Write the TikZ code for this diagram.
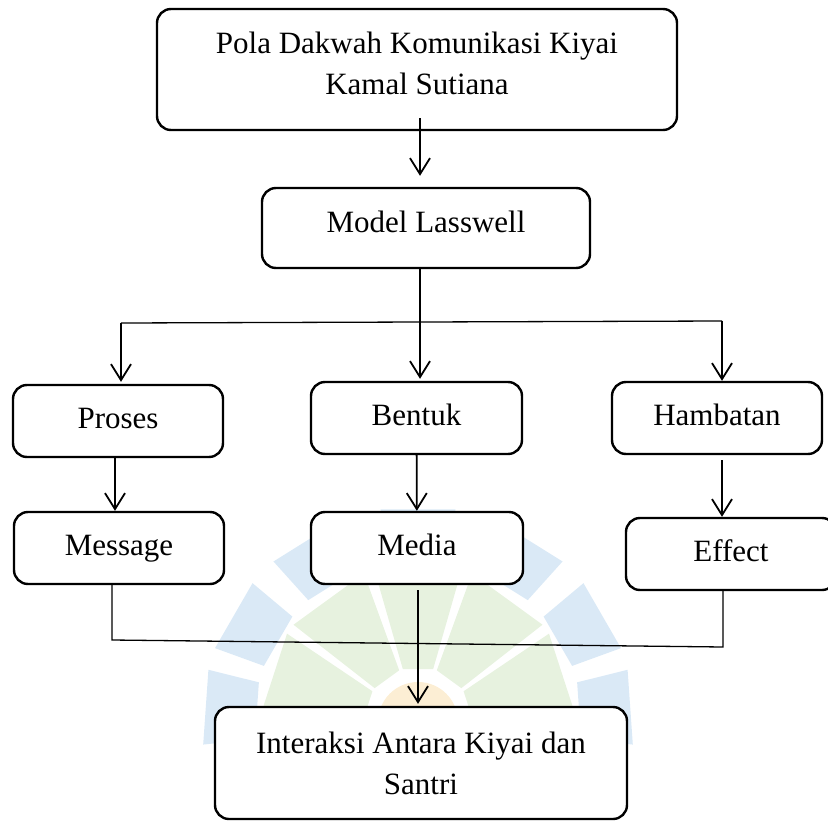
\documentclass[tikz,border=0pt]{standalone}
\usepackage{fontspec}
\setmainfont{Liberation Serif}
\usetikzlibrary{arrows.meta,calc}
\definecolor{wmblue}{RGB}{218,233,246}
\definecolor{wmgreen}{RGB}{231,242,223}
\definecolor{wmyellow}{RGB}{252,238,212}

\begin{document}
\begin{tikzpicture}[x=1pt,y=-1pt,
  box/.style={draw=black,line width=2.4pt,rounded corners=14pt,fill=white,
    inner sep=0pt,align=center,font=\fontsize{31}{41}\selectfont},
  onebox/.style={box,text height=22pt,text depth=8pt},
  arr/.style={line width=1.8pt,-{Straight Barb[length=16pt,width=20pt]}},
  stem/.style={line width=1.8pt},
  link/.style={line width=1.3pt}]

\useasboundingbox (0,0) rectangle (828,822);

% faint logo behind the chart:
\coordinate (wm) at (418,722);
\fill[wmyellow] (wm) circle (40);
\foreach \a in {-162,-126,-90,-54,-18}
  \fill[wmgreen] ($(wm)+(\a-16:55)$) -- ($(wm)+(\a-16:158)$) -- ($(wm)+(\a+16:158)$) -- ($(wm)+(\a+16:55)$) -- cycle;
\foreach \a in {-176,-150,-122,-90,-58,-30,-4}
  \fill[wmblue] ($(wm)+(\a-10:164)$) -- ($(wm)+(\a-10:216)$) -- ($(wm)+(\a+10:216)$) -- ($(wm)+(\a+10:164)$) -- cycle;

% boxes:
\node[box,minimum width=520pt,minimum height=121pt] (pola) at (417,69.5)
  {Pola Dakwah Komunikasi Kiyai\\Kamal Sutiana\rule[-13pt]{0pt}{13pt}};
\node[onebox,text depth=14pt,minimum width=328pt,minimum height=80pt] (model) at (426,228) {Model Lasswell};
\node[onebox,minimum width=210pt,minimum height=72pt] (proses) at (118,421) {Proses};
\node[onebox,minimum width=211pt,minimum height=72pt] (bentuk) at (416.5,418) {Bentuk};
\node[onebox,minimum width=210pt,minimum height=72pt] (hambatan) at (717,418) {Hambatan};
\node[onebox,minimum width=210pt,minimum height=72pt] (message) at (119,548) {Message};
\node[onebox,minimum width=212pt,minimum height=72pt] (media) at (417,548) {Media};
\node[onebox,minimum width=210pt,minimum height=72pt] (effect) at (731,554) {Effect};
\node[box,minimum width=412pt,minimum height=112pt] (interaksi) at (421,763)
  {Interaksi Antara Kiyai dan\\Santri};

% connectors:
\coordinate (split) at (420,322);
\coordinate (splitL) at (121,323);
\coordinate (splitR) at (722,321);
\coordinate (joinL) at (112,640);
\coordinate (joinR) at (723,647);

\draw[arr] ($(pola.south -| split)+(0,-13)$) -- ($(model.north -| split)+(0,-11)$);
\draw[stem] (model.south -| split) -- (split);
\draw[link] (splitL) -- (splitR);
\draw[arr] (splitL) -- ($(proses.north -| splitL)+(0,-2)$);
\draw[arr] (split) -- ($(bentuk.north -| split)+(0,-2)$);
\draw[arr] (splitR) -- (hambatan.north -| splitR);
\draw[arr] ($(proses.south)+(-3,0)$) -- ($(message.north)+(-4,0)$);
\draw[arr] (bentuk) -- (media);
\draw[arr] ($(hambatan.south -| splitR)+(0,5)$) -- (effect.north -| splitR);
\draw[link] (message.south -| joinL) -- (joinL) -- (joinR) -- (effect.south -| joinR);
\draw[arr] ($(media.south)+(1,5)$) -- ($(media.south |- interaksi.north)+(1,-2)$);

\end{tikzpicture}
\end{document}
